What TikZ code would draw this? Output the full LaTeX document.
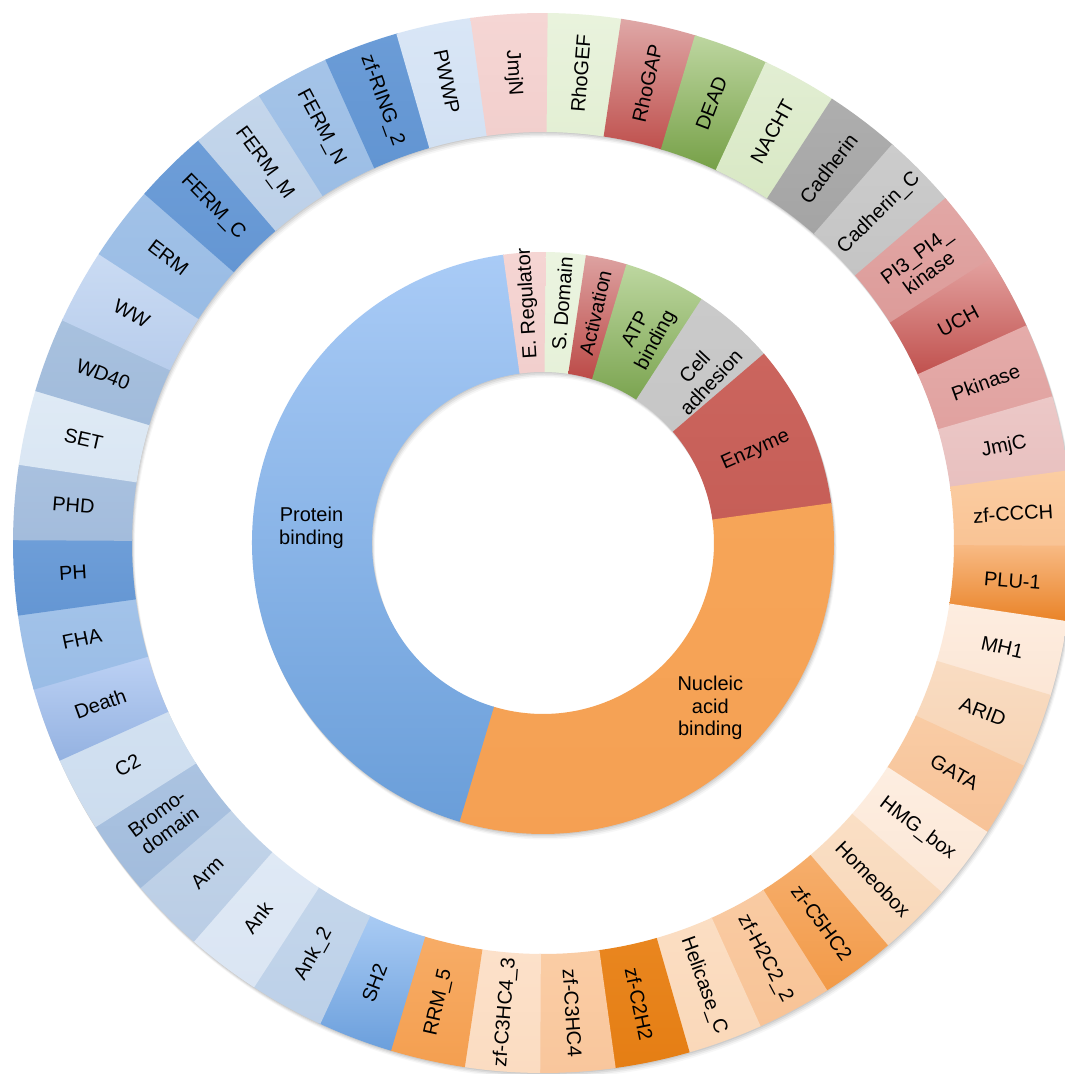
\documentclass[tikz,border=0pt]{standalone}
\usepackage{fontspec}
\setmainfont{Liberation Sans}
\tikzset{
  lbl/.style={text=black, align=center, inner sep=0pt, font=\fontsize{20}{21.5}\selectfont},
  ilbl/.style={text=black, align=center, inner sep=0pt, font=\fontsize{20}{22.5}\selectfont}
}
\begin{document}
\begin{tikzpicture}[x=1pt,y=1pt]
\clip (0,0) rectangle (1065,1074);
\fill[white] (0,0) rectangle (1065,1074);
\begin{scope}[shift={(543,531)}]
% soft drop shadows
\foreach \d/\o in {1/0.07, 2.5/0.06, 4/0.05, 5.5/0.03}{
  \fill[black, opacity=\o, even odd rule] (0.5*\d,-\d) circle (530) (0.5*\d,-\d) circle (411);
  \fill[black, opacity=\o, even odd rule] (0.5*\d,-\d) circle (291) (0.5*\d,-\d) circle (171);
}
% outer ring segments
\foreach \nm/\ct/\cb [count=\i from 0] in {
 RhoGEF/E9F3DD/E3EFD4, RhoGAP/DFA8A7/BF504D, DEAD/BDD6A0/76A047, NACHT/E2EED3/D8E8C4,
 Cadherin/AEAEAE/A4A4A4, Cadherin_C/CCCCCC/C4C4C4, PI3/E2A7A5/DC9B99, UCH/E3A2A0/C0504D,
 Pkinase/E5ACAA/E0A19F, JmjC/ECC8C7/E8C0BF, zfCCCH/FBCDA2/F9C394, PLU/F8BA84/E98226,
 MH1/FDEDE0/FCE6D5, ARID/F9DCC2/F7D4B5, GATA/F9CCA5/F7C297, HMG/FDEEE1/FCE7D6,
 Homeobox/FADFC5/F8D7B8, C5HC2/F6AE6C/F29A48, H2C2/F9CBA3/F8C396, Helicase/FBDEC3/FAD8B9,
 C2H2/E9861F/E57E14, C3HC4/FACDA5/F9C69C, C3HC43/FCE1CA/FBDCC1, RRM/F7AC66/F49F50,
 SH2/A9CBF4/6B9FDC, Ank2/C4D6EB/BCD0E8, Ank/DFE9F5/DAE5F3, Arm/C2D4E9/BACDE5,
 Bromo/ABC3E1/A2BCDC, C2/D2E1F1/CCDCEE, Death/BCD1F4/94B2E1, FHA/A3C3E9/99BCE6,
 PH/6E9ED8/6496D3, PHD/A9C1DF/A3BCDC, SET/DFEAF5/D9E6F3, WD40/A8C1DE/A1BBDB,
 WW/CADBF3/B8CDEC, ERM/A2C2E8/98BBE4, FERMC/6E9ED8/6496D3, FERMM/C4D6EB/BCD0E8,
 FERMN/A5C4E8/9BBDE5, RING/6B9CD7/6295D2, PWWP/D9E6F6/D2E1F3, JmjN/F5D6D4/F2CFCD}{
  \edef\tmp{\noexpand\definecolor{segT}{HTML}{\ct}\noexpand\definecolor{segB}{HTML}{\cb}}\tmp
  \pgfmathsetmacro\aa{89.5-\i*360/44+0.2}
  \pgfmathsetmacro\ab{89.5-(\i+1)*360/44}
  \path[top color=segT, bottom color=segB]
    (\aa:411) arc[start angle=\aa, end angle=\ab, radius=411]
    -- (\ab:530) arc[start angle=\ab, end angle=\aa, radius=530] -- cycle;
}
% inner ring segments
\foreach \k/\n/\ct/\cb in {
 0/1/EBF4E0/E6F1D9, 1/1/DDA2A1/BC4A47, 2/2/BDD7A0/7BA450, 4/2/CACACA/C6C6C6,
 6/4/CB655E/C65E57, 10/14/F6A558/F5A053, 24/19/A9CBF6/6A9ED9, 43/1/F5D5D3/F2CFCD}{
  \edef\tmp{\noexpand\definecolor{segT}{HTML}{\ct}\noexpand\definecolor{segB}{HTML}{\cb}}\tmp
  \pgfmathsetmacro\aa{89.5-\k*360/44+0.2}
  \pgfmathsetmacro\ab{89.5-(\k+\n)*360/44}
  \path[top color=segT, bottom color=segB]
    (\aa:171) arc[start angle=\aa, end angle=\ab, radius=171]
    -- (\ab:291) arc[start angle=\ab, end angle=\aa, radius=291] -- cycle;
}
% outer labels
\foreach \nm [count=\i from 0] in {
 RhoGEF, RhoGAP, DEAD, NACHT, Cadherin, Cadherin\_C, {PI3\_PI4\_\\kinase}, UCH,
 Pkinase, JmjC, zf-CCCH, PLU-1, MH1, ARID, GATA, HMG\_box,
 Homeobox, zf-C5HC2, zf-H2C2\_2, Helicase\_C, zf-C2H2, zf-C3HC4, zf-C3HC4\_3, RRM\_5,
 SH2, Ank\_2, Ank, Arm, {Bromo-\\domain}, C2, Death, FHA,
 PH, PHD, SET, WD40, WW, ERM, FERM\_C, FERM\_M,
 FERM\_N, zf-RING\_2, PWWP, JmjN}{
  \pgfmathsetmacro\m{89.5-(\i+0.5)*360/44}
  \pgfmathsetmacro\r{cos(\m)>=0 ? \m : \m+180}
  \node[lbl, rotate=\r] (o\i) at (\m:471) {\nm};
}
% inner labels
\node[ilbl, rotate=93.6] (ereg) at (93.6:240) {E. Regulator};
\node[ilbl, rotate=85.4] (sdom) at (85.4:240) {S. Domain};
\node[ilbl, rotate=77.2] (act) at (77.2:236) {Activation};
\node[ilbl, rotate=62] (atp) at (63.5:232) {ATP\\binding};
\node[ilbl, rotate=47] (cell) at (46.5:232) {Cell\\adhesion};
\node[ilbl, rotate=24] (enz) at (23.5:232) {Enzyme};
\node[ilbl] (nab) at (-44.6:235) {Nucleic\\acid\\binding};
\node[ilbl] (pb) at (176.3:232) {Protein\\binding};
\end{scope}
\end{tikzpicture}
\end{document}
